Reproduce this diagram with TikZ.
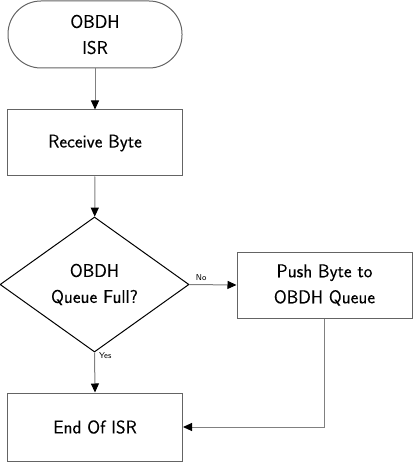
\documentclass[tikz,border=0pt]{standalone}
\usepackage{fontspec}
\newfontfamily\mainlabelfont{Latin Modern Sans}[FakeBold=0.2]
\usetikzlibrary{shapes.geometric,arrows.meta}
\definecolor{linegray}{RGB}{128,128,128}
\definecolor{boxgray}{RGB}{100,100,100}
\tikzset{
  base/.style={font=\mainlabelfont\fontsize{18.5}{26}\selectfont, align=center, inner sep=0pt, text=black},
  procbox/.style={base, draw=boxgray, line width=1pt, rectangle, minimum width=175pt, minimum height=66pt},
  termbox/.style={base, draw=boxgray, line width=1pt, rectangle, rounded corners=33pt, minimum width=174pt, minimum height=67pt},
  decbox/.style={base, draw=black, line width=1pt, diamond, minimum width=189pt, minimum height=135pt, aspect=1.4},
  conn/.style={draw=linegray, line width=1pt, -{Triangle[length=9pt,width=8pt,color=black,fill=black]}},
  small/.style={font=\sffamily\fontsize{8.5}{10}\selectfont, text=black, inner sep=1pt}
}
\begin{document}
\begin{tikzpicture}
\useasboundingbox (0,0) rectangle (414pt,-462pt);
\node[termbox] (start) at (95pt,-34.5pt) {OBDH\\ISR};
\node[procbox] (recv) at (95pt,-143pt) {Receive Byte};
\node[decbox] (dec) at (94.5pt,-284.5pt) {OBDH\\Queue Full?};
\node[procbox] (push) at (324.5pt,-285pt) {Push Byte to\\OBDH Queue};
\node[procbox, minimum height=68pt] (end) at (95pt,-427pt) {End Of ISR};
\draw[conn] (start) -- (recv);
\draw[conn] (recv) -- (dec);
\draw[conn] (dec.east) -- node[small, pos=0.25, above=3pt] {No} (push.west);
\draw[conn] (dec.south) -- node[small, pos=0.08, right=3pt] {Yes} (end.north);
\draw[conn] (push.south) |- (end.east);
\end{tikzpicture}
\end{document}
